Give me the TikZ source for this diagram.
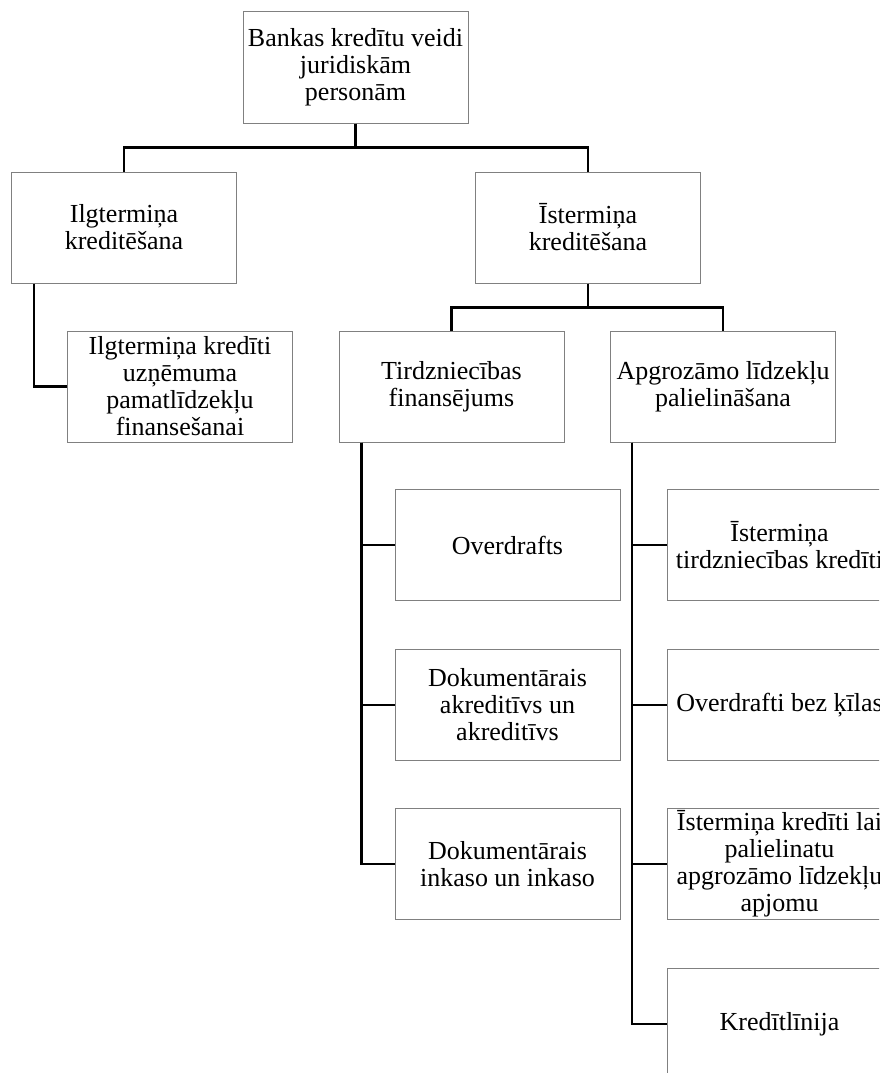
\documentclass[tikz,border=0pt]{standalone}
\usepackage{fontspec}
\setmainfont{Liberation Serif}
\begin{document}
\begin{tikzpicture}[x=1pt,y=-1pt,
  box/.style={draw={rgb,255:red,128;green,128;blue,128}, line width=1pt, fill=white,
    minimum width=225pt, minimum height=111pt, inner sep=0pt, align=center,
    font=\fontsize{26}{27}\selectfont},
  link/.style={draw=black, line width=2.6pt}]
\useasboundingbox (0,0) rectangle (879,1073);
\clip (0,0) rectangle (879,1073);

% top level
\node[box] (root) at (355.5,67.5) {Bankas kredītu veidi\\juridiskām\\personām};
\node[box] (ilg)  at (124,227.5)  {Ilgtermiņa\\kreditēšana};
\node[box] (ist)  at (588,227.5)  {Īstermiņa\\kreditēšana};

% second level
\node[box] (ilgk) at (180,386.5)  {Ilgtermiņa kredīti\\uzņēmuma\\pamatlīdzekļu\\finansešanai};
\node[box] (tird) at (451.5,386.5) {Tirdzniecības\\finansējums};
\node[box] (apgr) at (723,386.5)  {Apgrozāmo līdzekļu\\palielināšana};

% trade financing
\node[box] (ov)   at (507.5,545)  {Overdrafts};
\node[box] (dak)  at (507.5,705)  {Dokumentārais\\akreditīvs un\\akreditīvs};
\node[box] (dink) at (507.5,864)  {Dokumentārais\\inkaso un inkaso};

% working capital
\node[box] (itk)  at (779.5,545)  {Īstermiņa\\tirdzniecības kredīti};
\node[box] (obk)  at (779.5,705)  {Overdrafti bez ķīlas};
\node[box] (ikl)  at (779.5,864)  {Īstermiņa kredīti lai\\palielinatu\\apgrozāmo līdzekļu\\apjomu};
\node[box] (kl)   at (779.5,1024) {Kredītlīnija};

% connectors
\draw[link] (root.south) -- ++(0,24) -| (ilg.north);
\draw[link] (root.south) -- ++(0,24) -| (ist.north);
\draw[link] (ist.south) -- ++(0,24) -| (tird.north);
\draw[link] (ist.south) -- ++(0,24) -| (apgr.north);
\draw[link] ([xshift=23pt]ilg.south west) |- (ilgk.west);

\draw[link] ([xshift=23pt]tird.south west) |- (ov.west);
\draw[link] ([xshift=23pt]tird.south west) |- (dak.west);
\draw[link] ([xshift=23pt]tird.south west) |- (dink.west);

\draw[link] ([xshift=22pt]apgr.south west) |- (itk.west);
\draw[link] ([xshift=22pt]apgr.south west) |- (obk.west);
\draw[link] ([xshift=22pt]apgr.south west) |- (ikl.west);
\draw[link] ([xshift=22pt]apgr.south west) |- (kl.west);
\end{tikzpicture}
\end{document}
